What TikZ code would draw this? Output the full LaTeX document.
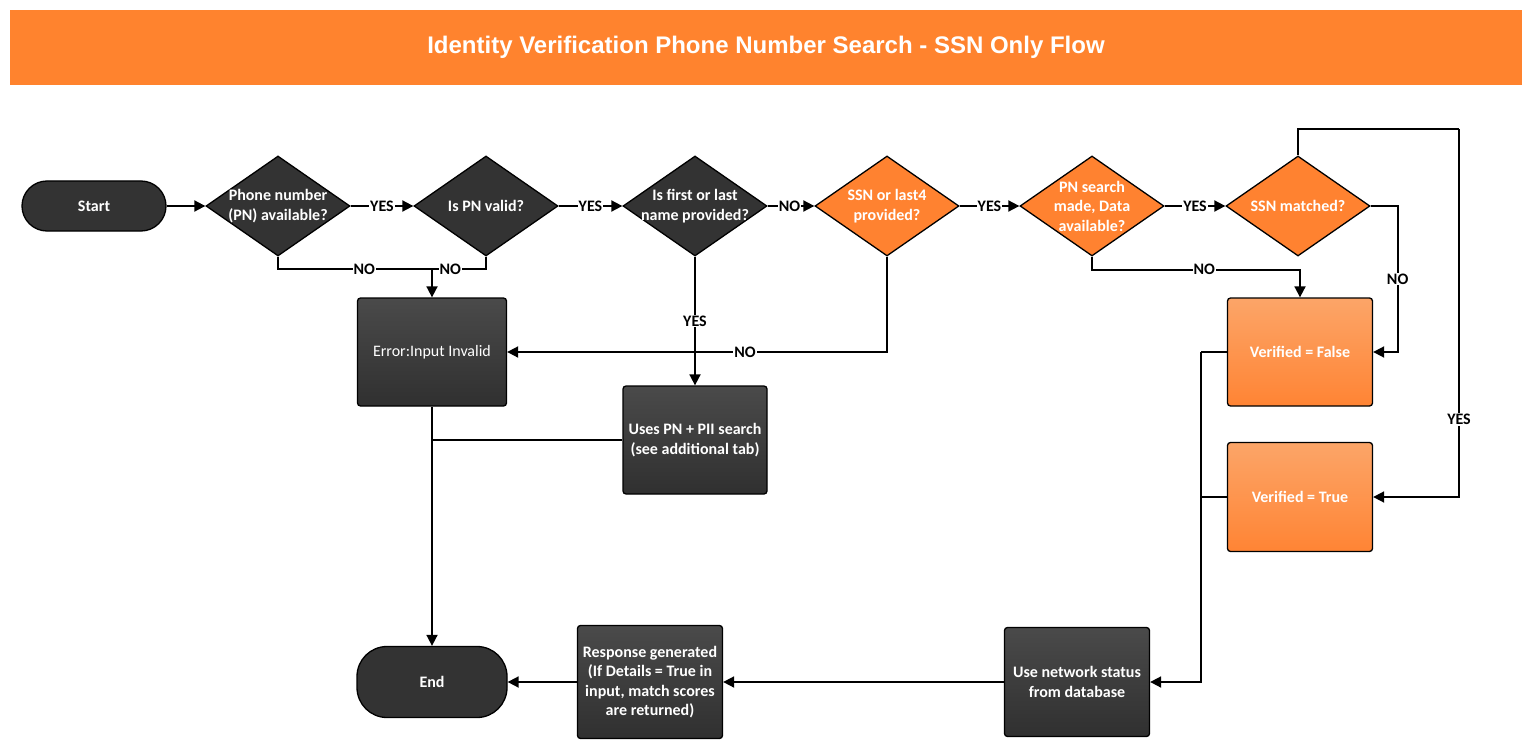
\documentclass[tikz,border=0pt]{standalone}
\usepackage{fontspec}
\setmainfont{Carlito}
\newfontfamily\titlefont{Liberation Sans}
\usetikzlibrary{shapes.geometric,arrows.meta}
\definecolor{titleor}{HTML}{FF832E}
\definecolor{dmor}{HTML}{FF8230}
\definecolor{dark}{HTML}{333333}
\definecolor{darktop}{HTML}{4A4A4A}
\definecolor{darkbot}{HTML}{303030}
\definecolor{ortop}{HTML}{FCA568}
\definecolor{orbot}{HTML}{FF8434}
\tikzset{
  x=1pt,y=-1pt,
  txt/.style={font=\fontsize{16}{19.5}\selectfont\bfseries, text=white, align=center},
  dmd/.style={diamond, draw=black, line width=1.3pt, minimum width=144pt, minimum height=100pt, inner sep=0pt},
  darkdmd/.style={dmd, fill=dark},
  ordmd/.style={dmd, fill=dmor},
  darkbox/.style={rectangle, draw=black, line width=1.3pt, rounded corners=3pt, top color=darktop, bottom color=darkbot, txt, inner sep=0pt},
  orbox/.style={rectangle, draw=black, line width=1.3pt, rounded corners=3pt, top color=ortop, bottom color=orbot, txt, inner sep=0pt},
  term/.style={rectangle, draw=black, line width=1.3pt, fill=dark, txt, inner sep=0pt},
  arr/.style={line width=1.8pt, -{Triangle[length=11pt,width=11pt]}},
  ln/.style={line width=1.8pt},
  lab/.style={font=\fontsize{16}{18}\selectfont\bfseries, text=black, fill=white, inner sep=1pt},
}
\begin{document}
\begin{tikzpicture}
\useasboundingbox (0,0) rectangle (1532,749);
% title
\node (title) at (766,47.5) [fill=titleor, minimum width=1512pt, minimum height=75pt, inner sep=0pt,
  text=white, font=\titlefont\fontsize{24}{28}\selectfont\bfseries] {Identity Verification Phone Number Search - SSN Only Flow};
% terminators
\node (start) at (94,206) [term, minimum width=144pt, minimum height=50pt, rounded corners=25pt] {Start};
\node (end) at (432,682) [term, minimum width=150pt, minimum height=71pt, rounded corners=30pt] {End};
% diamonds
\node (d1) at (278,206) [darkdmd, label={[txt]center:Phone number\\(PN) available?}] {};
\node (d2) at (486,206) [darkdmd, label={[txt]center:Is PN valid?}] {};
\node (d3) at (695,206) [darkdmd, label={[txt]center:Is first or last\\name provided?}] {};
\node (d4) at (887,206) [ordmd, label={[txt]center:SSN or last4\\provided?}] {};
\node (d5) at (1092,206) [ordmd, label={[txt]center:PN search\\made, Data\\available?}] {};
\node (d6) at (1298,206) [ordmd, label={[txt]center:SSN matched?}] {};
% boxes
\node (err) at (432,352) [darkbox, minimum width=149pt, minimum height=108pt, font=\fontsize{16}{19.5}\selectfont\mdseries] {Error:Input Invalid};
\node (pii) at (695,440) [darkbox, minimum width=144pt, minimum height=108pt] {Uses PN + PII search\\(see additional tab)};
\node (vf) at (1300,352) [orbox, minimum width=145pt, minimum height=108pt] {Verified = False};
\node (vt) at (1300,497) [orbox, minimum width=145pt, minimum height=109pt] {Verified = True};
\node (resp) at (650,682) [darkbox, minimum width=145pt, minimum height=113pt] {Response generated\\(If Details = True in\\input, match scores\\are returned)};
\node (net) at (1077,682) [darkbox, minimum width=145pt, minimum height=109pt] {Use network status\\from database};
% helper coordinates
\coordinate (m1) at (432,269);
\coordinate (loopc) at (1459,129);
\coordinate (bus) at (1201,352);
% top row
\draw[arr] (start) -- (d1);
\draw[arr] (d1) -- node[lab]{YES} (d2);
\draw[arr] (d2) -- node[lab]{YES} (d3);
\draw[arr] (d3) -- node[lab,pos=0.47]{NO} (d4);
\draw[arr] (d4) -- node[lab]{YES} (d5);
\draw[arr] (d5) -- node[lab]{YES} (d6);
% NO branches to error
\draw[ln] (d1.south) |- node[lab,pos=0.78]{NO} (m1);
\draw[ln] (d2.south) |- node[lab,pos=0.83]{NO} (m1);
\draw[arr] (m1) -- (err.north);
\draw[arr] (d3.south) -- node[lab,pos=0.5]{YES} (pii.north);
\draw[arr] (d4.south) |- node[lab,pos=0.687]{NO} (err.east);
\draw[ln] (pii.west) -- (pii.west -| err.south);
\draw[arr] (err.south) -- (end.north);
% right side
\draw[arr] (d5.south) -- ++(0,13) -| node[lab,pos=0.27]{NO} (vf.north);
\draw[arr] (d6.east) -- ++(27,0) |- node[lab,pos=0.25]{NO} (vf.east);
\draw[ln] (d6.north) |- (loopc);
\draw[arr] (loopc) |- node[lab,pos=0.395]{YES} (vt.east);
\draw[ln] (vf.west) -- (bus);
\draw[ln] (vt.west) -- (vt.west -| bus);
\draw[arr] (bus) |- (net.east);
% bottom row
\draw[arr] (net) -- (resp);
\draw[arr] (resp) -- (end);
\end{tikzpicture}
\end{document}
